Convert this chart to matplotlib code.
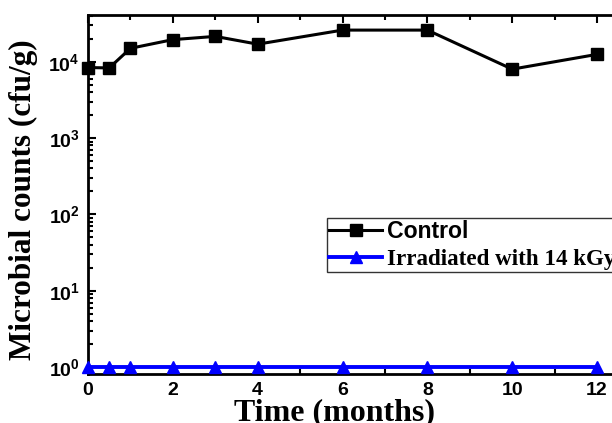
import matplotlib
matplotlib.use("Agg")
import matplotlib.pyplot as plt
from matplotlib.ticker import FixedLocator, LogLocator, NullFormatter, MultipleLocator

plt.rcParams["mathtext.fontset"] = "custom"
plt.rcParams["mathtext.bf"] = "Liberation Sans:bold"
plt.rcParams["mathtext.rm"] = "Liberation Sans:bold"

# data
months = [0, 0.5, 1, 2, 3, 4, 6, 8, 10, 12]
control = [8400, 8300, 15000, 19500, 21500, 17000, 26000, 26000, 8000, 12500]
irradiated = [1, 1, 1, 1, 1, 1, 1, 1, 1, 1]

x_ticks = [0, 2, 4, 6, 8, 10, 12]
y_ticks = [1, 10, 100, 1000, 10000]
y_ticklabels = [r"$\mathbf{10^{0}}$", r"$\mathbf{10^{1}}$", r"$\mathbf{10^{2}}$",
                r"$\mathbf{10^{3}}$", r"$\mathbf{10^{4}}$"]

W, H = 612, 423
fig = plt.figure(figsize=(W / 100, H / 100), dpi=100)
left, right, top, bottom = 88, 614, 15, 374
ax = fig.add_axes([left / W, (H - bottom) / H, (right - left) / W, (bottom - top) / H])

ax.plot(months, control, color="black", lw=2.2, marker="s", ms=8, label="Control", clip_on=False, zorder=3)
ax.plot(months, irradiated, color="#0000ff", lw=2.8, marker="^", ms=9, label="Irradiated with 14 kGy",
        clip_on=False, zorder=3)

ax.set_yscale("log")
ax.set_ylim(0.81, 4.1e4)
ax.set_xlim(0, 12.4)

ax.xaxis.set_major_locator(FixedLocator(x_ticks))
ax.xaxis.set_minor_locator(MultipleLocator(1))
ax.yaxis.set_major_locator(FixedLocator(y_ticks))
ax.set_yticklabels(y_ticklabels)
ax.yaxis.set_minor_locator(LogLocator(base=10, subs=range(2, 10), numticks=20))
ax.yaxis.set_minor_formatter(NullFormatter())

ax.tick_params(which="both", direction="in", top=True, right=False, width=1.5)
ax.tick_params(which="major", length=6, labelsize=14)
ax.tick_params(axis="y", which="major", pad=6)
ax.tick_params(axis="x", which="major", pad=6)
ax.tick_params(which="minor", length=3.5)
for lab in ax.get_xticklabels():
    lab.set_fontfamily("Liberation Sans")
    lab.set_fontweight("bold")
for sp in ax.spines.values():
    sp.set_linewidth(2)

ax.set_xlabel("Time (months)", family="Liberation Serif", weight="bold", fontsize=23)
ax.xaxis.set_label_coords(0.468, -0.068)
ax.set_ylabel("Microbial counts (cfu/g)", family="Liberation Serif", weight="bold", fontsize=22.5)
ax.yaxis.set_label_coords(-0.095, 0.485)

leg = ax.legend(loc="upper left", bbox_to_anchor=(0.454, 0.434), frameon=True, fancybox=False,
                edgecolor="black", handlelength=2.3, handletextpad=0.2, borderaxespad=0,
                borderpad=0.1, labelspacing=0.22, prop={"size": 16.6, "weight": "bold"})
leg.get_frame().set_linewidth(1)
texts = leg.get_texts()
texts[0].set_fontfamily("Liberation Sans")
texts[1].set_fontfamily("Liberation Serif")

fig.savefig("out.png", dpi=100)
